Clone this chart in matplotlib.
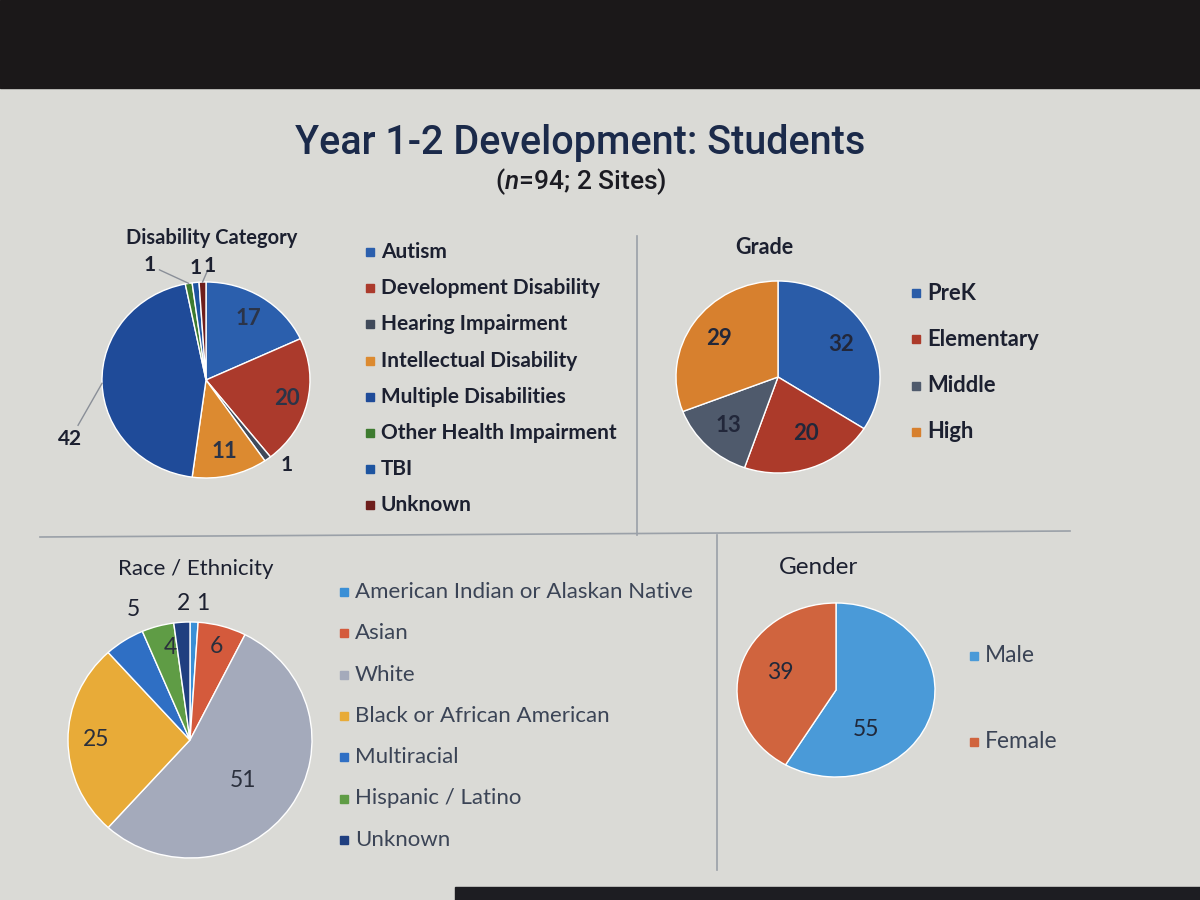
import numpy as np
import matplotlib
matplotlib.use("Agg")
import matplotlib.pyplot as plt
from matplotlib.patches import Rectangle

plt.rcParams['font.family'] = ['Lato', 'DejaVu Sans']
plt.rcParams['mathtext.fontset'] = 'custom'
plt.rcParams['mathtext.it'] = 'Roboto:italic:medium'
plt.rcParams['mathtext.rm'] = 'Roboto:medium'

# data
dis_labels = ["Autism", "Development Disability", "Hearing Impairment", "Intellectual Disability",
              "Multiple Disabilities", "Other Health Impairment", "TBI", "Unknown"]
dis_values = [17, 20, 1, 11, 42, 1, 1, 1]
dis_colors = ["#2b5fad", "#ab3a2c", "#404a5a", "#dc8a30", "#1f4b99", "#3d7b2f", "#1d54a0", "#6e1e1c"]

grade_labels = ["PreK", "Elementary", "Middle", "High"]
grade_values = [32, 20, 13, 29]
grade_colors = ["#2a5ca8", "#ac3a2a", "#4f5a6c", "#d7802e"]

race_labels = ["American Indian or Alaskan Native", "Asian", "White", "Black or African American",
               "Multiracial", "Hispanic / Latino", "Unknown"]
race_values = [1, 6, 51, 25, 5, 4, 2]
race_colors = ["#3a8fd6", "#d45a3c", "#a4aabb", "#e8ab38", "#2f6fc4", "#5f9c45", "#203f80"]

gender_labels = ["Male", "Female"]
gender_values = [55, 39]
gender_colors = ["#4a9ad8", "#d0643e"]

W, H = 1200, 900
fig = plt.figure(figsize=(12, 9), dpi=100)
fig.patch.set_facecolor("#dadad6")

# overlay in pixel coordinates
bg = fig.add_axes([0, 0, 1, 1])
bg.set_xlim(0, W)
bg.set_ylim(H, 0)
bg.axis("off")
bg.add_patch(Rectangle((0, 0), W, 88, color="#1b1819", zorder=0))
bg.add_patch(Rectangle((455, 887), W - 455, 13, color="#1d1d22", zorder=0))

line_kw = dict(color="#9aa0a8", lw=1.2)
bg.plot([637, 637], [236, 535], **line_kw)
bg.plot([40, 1070], [537, 531], **line_kw)
bg.plot([717, 717], [535, 870], **line_kw)

bg.text(580, 143, "Year 1-2 Development: Students", ha="center", va="center",
        fontsize=28.5, family="Roboto", fontweight="medium", color="#1b2a4a")
bg.text(581, 182, r"($\mathit{n}$=94; 2 Sites)", ha="center", va="center",
        fontsize=19, family="Roboto", fontweight="medium", color="#1b1b22")

txt_col = "#1c2030"


def pie_axes(cx, cy, rx, ry):
    ax = fig.add_axes([(cx - rx) / W, (H - cy - ry) / H, 2 * rx / W, 2 * ry / H])
    return ax


def draw_pie(ax, values, colors):
    wedges, _ = ax.pie(values, colors=colors, startangle=90, counterclock=False,
                       wedgeprops=dict(edgecolor="white", linewidth=1.0))
    ax.set_aspect("auto")
    ax.set_xlim(-1, 1)
    ax.set_ylim(-1, 1)
    return wedges


def inner_labels(ax, wedges, values, idx, radii, shifts, size, weight, color=txt_col):
    for i, r, d in zip(idx, radii, shifts):
        w = wedges[i]
        a = np.deg2rad((w.theta1 + w.theta2) / 2 + d)
        ax.text(r * np.cos(a), r * np.sin(a), str(values[i]), ha="center", va="center",
                fontsize=size, fontweight=weight, color=color)


def outer_labels(ax, wedges, values, idx, offsets, rx, ry, size, weight, leader):
    for i, (ox, oy), ld in zip(idx, offsets, leader):
        w = wedges[i]
        a = np.deg2rad((w.theta1 + w.theta2) / 2)
        x0, y0 = np.cos(a), np.sin(a)
        x1, y1 = x0 + ox / rx, y0 - oy / ry
        if ld:
            ax.plot([x0, x0 + 0.75 * (x1 - x0)], [y0, y0 + 0.75 * (y1 - y0)],
                    color="#8a8f98", lw=1, clip_on=False)
        ax.text(x1, y1, str(values[i]), ha="center", va="center", fontsize=size,
                fontweight=weight, color=txt_col, clip_on=False)


def legend(x, y0, dy, labels, colors, size, weight, color):
    for k, (lab, c) in enumerate(zip(labels, colors)):
        y = y0 + k * dy
        bg.add_patch(Rectangle((x, y - 4), 8, 8, color=c))
        bg.text(x + 15, y, lab, ha="left", va="center", fontsize=size,
                fontweight=weight, color=color)


# Disability Category
bg.text(212, 238, "Disability Category", ha="center", va="center", fontsize=14.5,
        fontweight="bold", color=txt_col)
ax1 = pie_axes(206, 380, 104, 98)
w1 = draw_pie(ax1, dis_values, dis_colors)
inner_labels(ax1, w1, dis_values, [0, 1, 3], [0.75, 0.8, 0.75], [0, 0, 0], 16, "bold", "#2b3448")
outer_labels(ax1, w1, dis_values, [2, 4, 5, 6, 7],
             [(19, 6), (-32, 56), (-39, -18), (0, -14), (7, -16)], 104, 98, 15, "bold",
             [False, True, True, False, True])
legend(366, 252, 36.2, dis_labels, dis_colors, 15, "bold", txt_col)

# Grade
bg.text(764, 247, "Grade", ha="center", va="center", fontsize=15.5, fontweight="bold", color=txt_col)
ax2 = pie_axes(778, 377, 102, 96)
w2 = draw_pie(ax2, grade_values, grade_colors)
inner_labels(ax2, w2, grade_values, [0, 1, 2, 3], [0.7, 0.65, 0.7, 0.7], [0, 6, 0, 0], 16, "bold", "#22273a")
legend(912, 293, 46.3, grade_labels, grade_colors, 15.8, "bold", txt_col)

# Race / Ethnicity
bg.text(196, 569, "Race / Ethnicity", ha="center", va="center", fontsize=16, color=txt_col)
ax3 = pie_axes(190, 740, 122, 118)
w3 = draw_pie(ax3, race_values, race_colors)
inner_labels(ax3, w3, race_values, [1, 2, 3, 5], [0.82, 0.55, 0.77, 0.8], [0, -4, 0, -4], 16.5, "normal", "#2a2f3c")
outer_labels(ax3, w3, race_values, [4, 6, 0], [(9, -31), (2, -19), (9, -19)], 122, 118,
             16.5, "normal", [False, False, False])
legend(340, 592, 41.3, race_labels, race_colors, 16, "normal", "#3b4456")

# Gender
bg.text(818, 567, "Gender", ha="center", va="center", fontsize=17.5, color=txt_col)
ax4 = pie_axes(836, 690, 99, 87)
w4 = draw_pie(ax4, gender_values, gender_colors)
inner_labels(ax4, w4, gender_values, [0, 1], [0.55, 0.6], [-41, -4], 16.5, "normal", "#20283a")
legend(970, 656, 86, gender_labels, gender_colors, 16.4, "normal", "#3b4456")

fig.savefig("out.png", dpi=100, facecolor=fig.get_facecolor())
